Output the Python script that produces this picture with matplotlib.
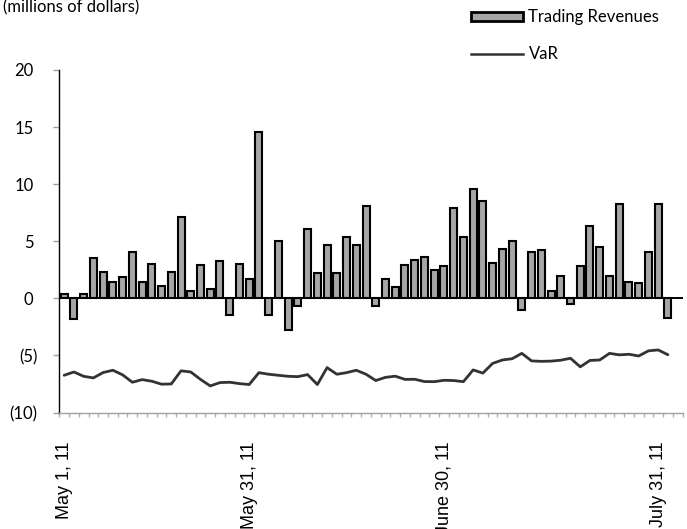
import matplotlib
matplotlib.use("Agg")
import matplotlib.pyplot as plt
import matplotlib.transforms as mtransforms
from matplotlib.patches import Patch
from matplotlib.lines import Line2D
import numpy as np

# ---- data ----
trading_revenues = [
    0.4, -1.8, 0.4, 3.5, 2.3, 1.4, 1.9, 4.1, 1.45, 3.0,
    1.1, 2.3, 7.1, 0.6, 2.9, 0.8, 3.3, -1.5, 3.0, 1.7,
    14.6, -1.5, 5.0, -2.8, -0.7, 6.1, 2.2, 4.7, 2.2, 5.4,
    4.65, 8.05, -0.7, 1.7, 1.0, 2.9, 3.4, 3.65, 2.5, 2.8,
    7.9, 5.4, 9.55, 8.5, 3.1, 4.3, 5.0, -1.0, 4.1, 4.2,
    0.6, 2.0, -0.5, 2.8, 6.3, 4.5, 1.95, 8.3, 1.4, 1.35,
    4.05, 8.25, -1.75,
]
var_values = [
    -6.74, -6.45, -6.83, -6.97, -6.50, -6.30, -6.70, -7.35, -7.12, -7.26,
    -7.52, -7.50, -6.35, -6.45, -7.10, -7.67, -7.38, -7.35, -7.47, -7.55,
    -6.51, -6.65, -6.74, -6.83, -6.86, -6.68, -7.55, -6.07, -6.65, -6.51,
    -6.30, -6.65, -7.20, -6.92, -6.82, -7.10, -7.09, -7.29, -7.30, -7.18,
    -7.20, -7.30, -6.27, -6.55, -5.70, -5.40, -5.29, -4.82, -5.48, -5.52,
    -5.50, -5.42, -5.25, -6.00, -5.44, -5.40, -4.82, -4.95, -4.90, -5.05,
    -4.60, -4.52, -4.94,
]
n_categories = 64  # category slots on the axis (last slot empty)
date_labels = {0: "May 1, 11", 19: "May 31, 11", 39: "June 30, 11", 61: "July 31, 11"}
y_ticks = [-10, -5, 0, 5, 10, 15, 20]
y_tick_labels = ["(10)", "(5)", "0", "5", "10", "15", "20"]
series_names = ["Trading Revenues", "VaR"]
unit_label = "(millions of dollars)"

W, H = 687, 529
fig = plt.figure(figsize=(W / 100, H / 100), dpi=100)
ax = fig.add_axes([59.3 / W, 1 - 412.5 / H, (682.5 - 59.3) / W, (412.5 - 70) / H])

x = np.arange(len(trading_revenues))
ax.bar(x, trading_revenues, width=0.72, color="#A6A6A6", edgecolor="black",
       linewidth=1.5, zorder=3)
ax.axhline(0, color="black", linewidth=1.4, zorder=4)
ax.plot(np.arange(len(var_values)), var_values, color="#333333", linewidth=2.0,
        solid_joinstyle="round", solid_capstyle="round", zorder=5)

ax.set_xlim(-0.5, n_categories - 0.5)
ax.set_ylim(-10, 20)

for s in ["top", "right"]:
    ax.spines[s].set_visible(False)
ax.spines["left"].set_color("black")
ax.spines["left"].set_linewidth(1.0)
ax.spines["bottom"].set_color("#A0A0A0")
ax.spines["bottom"].set_linewidth(1.0)

# y axis
ax.set_yticks(y_ticks)
ax.set_yticklabels(y_tick_labels, fontfamily="Lato", fontsize=12)
ax.tick_params(axis="y", direction="out", length=4.3, width=1.0, color="#A0A0A0",
               pad=11.5)
for lbl in ax.get_yticklabels():
    if not lbl.get_text().endswith(")"):
        lbl.set_transform(lbl.get_transform() +
                          mtransforms.ScaledTranslation(-4 / 100, 0, fig.dpi_scale_trans))

# x axis
ax.set_xticks(list(date_labels.keys()))
ax.set_xticklabels(list(date_labels.values()), rotation=90, fontfamily="Liberation Sans",
                   fontsize=13, va="top", ha="center")
ax.tick_params(axis="x", which="major", length=0, pad=21)
ax.set_xticks(np.arange(n_categories + 1) - 0.5, minor=True)
ax.tick_params(axis="x", which="minor", direction="out", length=3.2, width=1.0,
               color="#B0B0B0")

# unit label
fig.text(3 / W, 1 - 12 / H, unit_label, fontfamily="Lato", fontsize=12,
         ha="left", va="baseline")

# legend
handles = [Patch(facecolor="#A6A6A6", edgecolor="black", linewidth=2.0),
           Line2D([0], [0], color="#333333", linewidth=1.8)]
leg = fig.legend(handles, series_names, loc="upper left",
                 bbox_to_anchor=(471 / W, 1 - 9 / H), frameon=False,
                 prop={"family": "Lato", "size": 12}, handlelength=3.1,
                 handleheight=0.45, handletextpad=0.35, labelspacing=1.27,
                 borderpad=0, borderaxespad=0)

fig.savefig("out.png", dpi=100)
